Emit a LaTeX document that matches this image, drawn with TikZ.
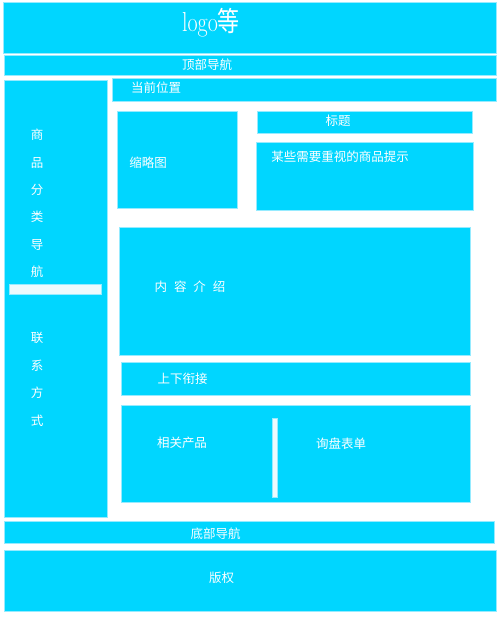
\documentclass[tikz,border=0pt]{standalone}
\usepackage{fontspec}
\newfontfamily\cjk{Noto Sans CJK SC}
\usepackage{tikz}

\definecolor{boxcyan}{RGB}{0,214,255}
\definecolor{boxedge}{RGB}{150,235,255}
\definecolor{barwhite}{RGB}{236,250,253}

\tikzset{
	box/.style={fill=boxcyan, draw=boxedge, line width=0.8pt, inner sep=0pt, outer sep=0pt},
	bar/.style={fill=barwhite, draw=boxedge, line width=0.5pt, inner sep=0pt, outer sep=0pt},
	txt/.style={text=white, inner sep=0pt, font=\cjk\fontsize{12.5}{14}\selectfont}
}

\begin{document}
\begin{tikzpicture}[x=1pt, y=-1pt]
		\useasboundingbox (0,0) rectangle (500,625) ;

		\node[box, minimum width=493pt, minimum height=51pt] (logo) 	at (249.5,27.5) {} ;
		\node[box, minimum width=492pt, minimum height=20pt] (topnav) 	at (250,65) {} ;
		\node[box, minimum width=103pt, minimum height=437pt] (side) 	at (55.5,298.5) {} ;
		\node[box, minimum width=384pt, minimum height=23pt] (where) 	at (304,89.5) {} ;
		\node[box, minimum width=120pt, minimum height=97pt] (thumb) 	at (177,159.5) {} ;
		\node[box, minimum width=215pt, minimum height=22pt] (title) 	at (364.5,122) {} ;
		\node[box, minimum width=217pt, minimum height=68pt] (hint) 	at (364.5,176) {} ;
		\node[box, minimum width=351pt, minimum height=128pt] (intro) 	at (294.5,291) {} ;
		\node[box, minimum width=349pt, minimum height=33pt] (link) 	at (295.5,378.5) {} ;
		\node[box, minimum width=349pt, minimum height=97pt] (related) 	at (295.5,453.5) {} ;
		\node[box, minimum width=490pt, minimum height=22pt] (botnav) 	at (249,532) {} ;
		\node[box, minimum width=492pt, minimum height=61pt] (copy) 	at (250,580.5) {} ;

		\node[bar, minimum width=92pt, minimum height=10pt] (sidebar) 	at (55,289) {} ;
		\node[bar, minimum width=5pt, minimum height=79pt] (split) 	at (274.5,457.5) {} ;

		\node[txt, font=\fontsize{22}{24}\selectfont] (logotxt) 	at (211,23) {\scalebox{1}[1.25]{logo{\cjk 等}}} ;
		\node[txt] (topnavtxt) 	at (207,65) {顶部导航} ;
		\node[txt] (wheretxt) 	at (156,88) {当前位置} ;
		\node[txt, align=center, font=\cjk\fontsize{12.5}{27.4}\selectfont] (cattxt) 	at (37,203.5) {商\\品\\分\\类\\导\\航} ;
		\node[txt, align=center, font=\cjk\fontsize{12.5}{27.7}\selectfont] (contacttxt) 	at (37,379.5) {联\\系\\方\\式} ;
		\node[txt] (thumbtxt) 	at (148,163) {缩略图} ;
		\node[txt] (titletxt) 	at (338,121) {标题} ;
		\node[txt] (hinttxt) 	at (340,157) {某些需要重视的商品提示} ;
		\node[txt] (introtxt) 	at (190,287) {内\hspace{0.55em}容\hspace{0.55em}介\hspace{0.55em}绍} ;
		\node[txt] (linktxt) 	at (182.5,379) {上下衔接} ;
		\node[txt] (relatedtxt) 	at (182,443) {相关产品} ;
		\node[txt] (formtxt) 	at (341,444) {询盘表单} ;
		\node[txt] (botnavtxt) 	at (215.5,534) {底部导航} ;
		\node[txt] (copytxt) 	at (221.5,578) {版权} ;
\end{tikzpicture}
\end{document}
